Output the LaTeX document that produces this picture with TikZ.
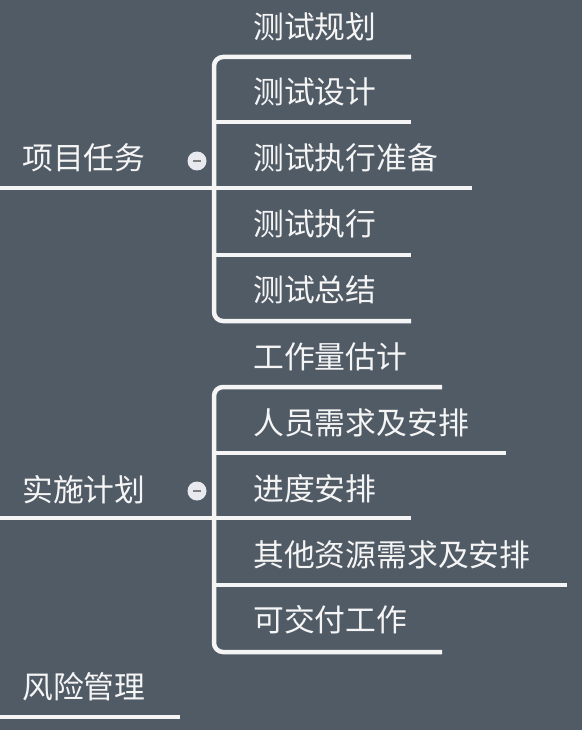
\documentclass[tikz,border=0pt]{standalone}
\usepackage{fontspec}
\newfontfamily\cjk{Noto Sans CJK SC}
\definecolor{bgc}{RGB}{81,91,102}
\definecolor{fgc}{RGB}{245,245,245}
\definecolor{knob}{RGB}{232,234,240}
\begin{document}
\begin{tikzpicture}[x=1pt,y=-1pt,
  lbl/.style={anchor=west,inner sep=0pt,text=fgc,font=\cjk\fontsize{30.8}{30.8}\selectfont},
  branch/.style={draw=fgc,line width=4.5pt},
  knobstyle/.style={circle,fill=knob,minimum size=19pt,inner sep=0pt}]
\fill[bgc] (0,0) rectangle (582,730);
\useasboundingbox (0,0) rectangle (582,730);
% group 1
\node[lbl] (r1) at (22,158) {项目任务};
\node[lbl] (a1) at (253,27) {测试规划};
\node[lbl] (a2) at (253,92) {测试设计};
\node[lbl] (a3) at (253,158) {测试执行准备};
\node[lbl] (a4) at (253,224) {测试执行};
\node[lbl] (a5) at (253,290) {测试总结};
\coordinate (r1s) at (0,188);
\coordinate (a1e) at (411,57);
\coordinate (a2e) at (411,122);
\coordinate (a3e) at (472,188);
\coordinate (a4e) at (411,255);
\coordinate (a5e) at (411,321);
\coordinate (s1t) at (214,57);
\coordinate (s1b) at (214,321);
\draw[branch,rounded corners=9pt] (a1e) -- (s1t) -- (s1b) -- (a5e);
\draw[branch] (s1t |- a2e) -- (a2e);
\draw[branch] (r1s) -- (a3e);
\draw[branch] (s1t |- a4e) -- (a4e);
\node[knobstyle] (k1) at (197,161) {};
\draw[gray,line width=1.5pt] ([xshift=-4pt]k1.center) -- ([xshift=4pt]k1.center);
% group 2
\node[lbl] (r2) at (22,490) {实施计划};
\node[lbl] (b1) at (253,357) {工作量估计};
\node[lbl] (b2) at (253,423) {人员需求及安排};
\node[lbl] (b3) at (253,489) {进度安排};
\node[lbl] (b4) at (253,555) {其他资源需求及安排};
\node[lbl] (b5) at (253,620) {可交付工作};
\coordinate (r2s) at (0,518);
\coordinate (b1e) at (442,387);
\coordinate (b2e) at (506,453);
\coordinate (b3e) at (411,518);
\coordinate (b4e) at (567,585);
\coordinate (b5e) at (442,652);
\coordinate (s2t) at (214,387);
\coordinate (s2b) at (214,652);
\draw[branch,rounded corners=9pt] (b1e) -- (s2t) -- (s2b) -- (b5e);
\draw[branch] (s2t |- b2e) -- (b2e);
\draw[branch] (r2s) -- (b3e);
\draw[branch] (s2t |- b4e) -- (b4e);
\node[knobstyle] (k2) at (197,491) {};
\draw[gray,line width=1.5pt] ([xshift=-4pt]k2.center) -- ([xshift=4pt]k2.center);
% group 3
\node[lbl] (r3) at (22,687) {风险管理};
\coordinate (r3s) at (0,717);
\coordinate (r3e) at (180,717);
\draw[branch] (r3s) -- (r3e);
\end{tikzpicture}
\end{document}
